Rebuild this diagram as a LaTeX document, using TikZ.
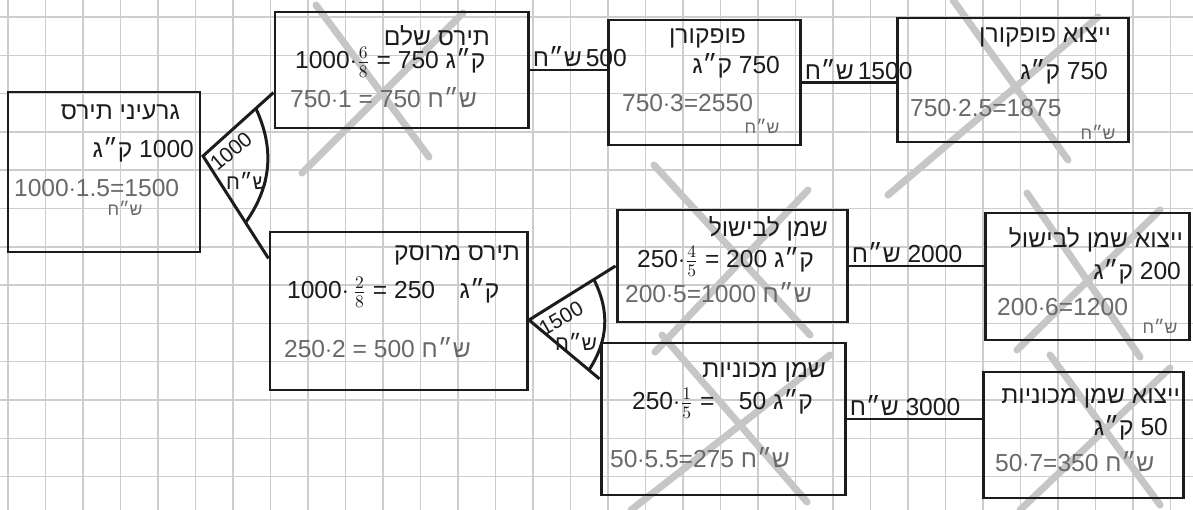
\documentclass[tikz,border=0pt]{standalone}
\usepackage{fontspec}
\setmainfont{Liberation Sans}
\newfontfamily\hebfont[Script=Hebrew]{Liberation Sans}
\usetikzlibrary{fit,calc}
\TeXXeTstate=1
\definecolor{ink}{RGB}{28,28,28}
\definecolor{pencil}{RGB}{105,105,105}
\definecolor{gridgray}{RGB}{205,205,205}
\definecolor{crossgray}{RGB}{198,198,198}
\newcommand{\heb}[1]{{\hebfont\beginR#1\endR}}

\begin{document}
\begin{tikzpicture}[x=0.02cm, y=-0.02cm,
    box/.style={draw=ink, line width=1.7pt, inner sep=0pt},
    hand/.style={font=\fontsize{14}{16}\selectfont, text=ink, inner sep=1pt},
    titlelbl/.style={hand, anchor=east},
    moneylbl/.style={hand, text=pencil, anchor=west},
    shekel/.style={font=\fontsize{10}{11}\selectfont, text=pencil, inner sep=0pt},
    flowlbl/.style={hand, font=\fontsize{14}{16}\selectfont, inner sep=1pt},
    splitlbl/.style={font=\fontsize{12}{12}\selectfont, text=ink, inner sep=0pt},
    flow/.style={draw=ink, line width=1.7pt},
    cross/.style={draw=crossgray, line width=4pt, line cap=round},
    gridline/.style={draw=gridgray, line width=0.8pt}
  ]
  \useasboundingbox (0,0) rectangle (1193,510);
  \fill[white] (0,0) rectangle (1193,510);
  % grid paper
  \foreach \k in {0,...,31}
    \draw[gridline] ({8+37.5*\k},0) -- ({8+37.5*\k},510);
  \foreach \k in {0,...,13}
    \draw[gridline] (0,{17+38.3*\k}) -- (1193,{17+38.3*\k});
  % crossed out
  \foreach \xa/\ya/\xb/\yb in {%
    316/5/429/157, 463/13/302/173,
    953/0/1068/160, 1098/17/888/195,
    654/165/810/335, 808/190/655/352,
    662/335/807/502, 830/355/631/510,
    1027/193/1140/357, 1160/210/1017/350,
    1050/355/1160/505, 1170/368/1020/510%
  }{
    \draw[cross] (\xa,\ya) -- (\xb,\yb);
  }

  % boxes
  \node[box, fit={(8,92) (200,252)}] (kernels) {};
  \node[box, fit={(275,12) (528,128)}] (whole) {};
  \node[box, fit={(608,20) (800,145)}] (popcorn) {};
  \node[box, fit={(897,18) (1128,142)}] (popexport) {};
  \node[box, fit={(270,232) (527,390)}] (crushed) {};
  \node[box, fit={(617,210) (847,322)}] (cookoil) {};
  \node[box, fit={(601,343) (845,495)}] (caroil) {};
  \node[box, fit={(985,213) (1189,340)}] (cookexport) {};
  \node[box, fit={(983,372) (1183,498)}] (carexport) {};

  % kernels
  \node[titlelbl] (kernels-t) at (182,112) {\heb{גרעיני תירס}};
  \node[hand, anchor=east] (kernels-q) at (196,150) {\heb{1000 ק״ג}};
  \node[moneylbl] (kernels-m) at (12,188) {1000$\cdot$1.5=1500};
  \node[shekel] (kernels-s) at (125,208) {\heb{ש״ח}};
  % whole corn
  \node[titlelbl] (whole-t) at (492,36) {\heb{תירס שלם}};
  \node[hand, anchor=west] (whole-q) at (293,62) {1000$\cdot\frac{6}{8}$ = 750\;\heb{ק״ג}};
  \node[moneylbl] (whole-m) at (288,98) {750$\cdot$1 = 750\;\heb{ש״ח}};
  % popcorn
  \node[titlelbl] (popcorn-t) at (748,38) {\heb{פופקורן}};
  \node[hand, anchor=east] (popcorn-q) at (782,66) {\heb{750 ק״ג}};
  \node[moneylbl] (popcorn-m) at (620,103) {750$\cdot$3=2550};
  \node[shekel] (popcorn-s) at (762,126) {\heb{ש״ח}};
  % popcorn export
  \node[titlelbl] (popexport-t) at (1113,37) {\heb{ייצוא פופקורן}};
  \node[hand, anchor=east] (popexport-q) at (1110,72) {\heb{750 ק״ג}};
  \node[moneylbl] (popexport-m) at (908,108) {750$\cdot$2.5=1875};
  \node[shekel] (popexport-s) at (1098,132) {\heb{ש״ח}};
  % crushed corn
  \node[titlelbl] (crushed-t) at (522,255) {\heb{תירס מרוסק}};
  \node[hand, anchor=west] (crushed-q) at (285,292) {1000$\cdot\,\frac{2}{8}$ = 250\quad\heb{ק״ג}};
  \node[moneylbl] (crushed-m) at (282,348) {250$\cdot$2 = 500\;\heb{ש״ח}};
  % cooking oil
  \node[titlelbl] (cookoil-t) at (830,229) {\heb{שמן לבישול}};
  \node[hand, anchor=west] (cookoil-q) at (635,261) {250$\cdot\frac{4}{5}$ = 200\;\heb{ק״ג}};
  \node[moneylbl] (cookoil-m) at (623,293) {200$\cdot$5=1000\;\heb{ש״ח}};
  % car oil
  \node[titlelbl] (caroil-t) at (828,372) {\heb{שמן מכוניות}};
  \node[hand, anchor=west] (caroil-q) at (630,403) {250$\cdot\frac{1}{5}$ =\quad 50\;\heb{ק״ג}};
  \node[moneylbl] (caroil-m) at (608,458) {50$\cdot$5.5=275\;\heb{ש״ח}};
  % cooking oil export
  \node[titlelbl] (cookexport-t) at (1185,240) {\heb{ייצוא שמן לבישול}};
  \node[hand, anchor=east] (cookexport-q) at (1183,272) {\heb{200 ק״ג}};
  \node[moneylbl] (cookexport-m) at (995,307) {200$\cdot$6=1200};
  \node[shekel] (cookexport-s) at (1160,326) {\heb{ש״ח}};
  % car oil export
  \node[titlelbl] (carexport-t) at (1182,398) {\heb{ייצוא שמן מכוניות}};
  \node[hand, anchor=east] (carexport-q) at (1170,428) {\heb{50 ק״ג}};
  \node[moneylbl] (carexport-m) at (993,462) {50$\cdot$7=350\;\heb{ש״ח}};

  % splits
  \coordinate (split1) at (203,156);
  \draw[flow] (whole.190) -- (split1) -- (crushed.158);
  \draw[flow] ($(split1)!0.75!(whole.190)$) to[bend left=30] ($(split1)!0.65!(crushed.158)$);
  \node[splitlbl, rotate=40] (split1-n) at (231,151) {1000};
  \node[splitlbl] (split1-s) at (247,181) {\heb{ש״ח}};
  \coordinate (split2) at (529,320);
  \draw[flow] (cookoil.west) -- (split2) -- (caroil.162);
  \draw[flow] ($(split2)!0.75!(cookoil.west)$) to[bend left=30] ($(split2)!0.85!(caroil.162)$);
  \node[splitlbl, rotate=30] (split2-n) at (561,318) {1500};
  \node[splitlbl] (split2-s) at (576,342) {\heb{ש״ח}};

  % sales
  \draw[flow] (whole.east) -- (whole.east -| popcorn.west)
    node[flowlbl, pos=0, anchor=south west] (whole-sale) {\heb{500\,ש״ח}};
  \draw[flow] (popcorn.east) -- (popcorn.east -| popexport.west)
    node[flowlbl, pos=0, anchor=south west] (popcorn-sale) {\heb{1500\,ש״ח}};
  \draw[flow] (cookoil.east) -- (cookoil.east -| cookexport.west)
    node[flowlbl, pos=0, anchor=south west] (cookoil-sale) {\heb{2000 ש״ח}};
  \draw[flow] (caroil.east) -- (caroil.east -| carexport.west)
    node[flowlbl, pos=0, anchor=south west] (caroil-sale) {\heb{3000 ש״ח}};
\end{tikzpicture}
\end{document}
